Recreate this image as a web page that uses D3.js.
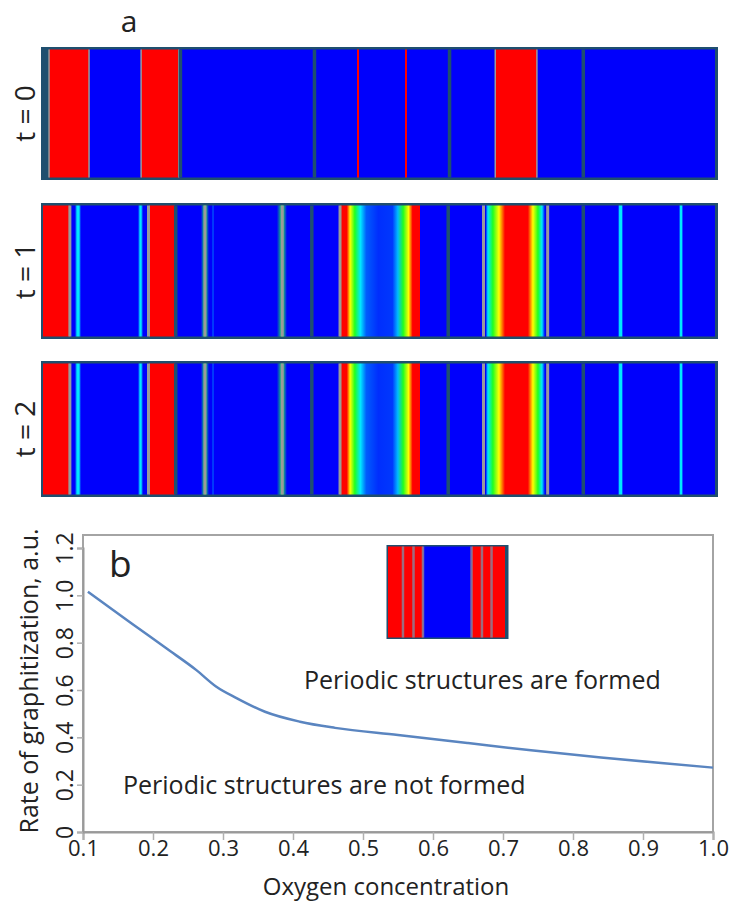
<!DOCTYPE html>
<html>
<head>
<meta charset="utf-8">
<script src="https://cdn.jsdelivr.net/npm/d3@7"></script>
<style>
  body { margin: 0; background: #fff; }
  svg { display: block; font-family: "Open Sans", sans-serif; }
</style>
</head>
<body>
<svg id="mySVG" width="729" height="903"></svg>
<script>
// ---- data ----
const stripLabels = ["t = 0", "t = 1", "t = 2"];

// concentration along the sample: [position %, value 0..1]
const profileT0 = [
    [0.9, 1], [6.85, 1], [6.85, 0], [14.6, 0], [14.6, 1], [20.2, 1], [20.2, 0],
    [46.7, 0], [46.7, 1], [47.0, 1], [47.0, 0],
    [53.9, 0], [53.9, 1], [54.2, 1], [54.2, 0],
    [67.3, 0], [67.3, 1], [73.5, 1], [73.5, 0], [100, 0]
];
const profileT1 = [
    [0, 1], [4.0, 1], [4.0, 0],
    [4.76, 0], [5.06, 0.25], [5.36, 0.25], [5.65, 0],
    [14.14, 0], [14.43, 0.25], [14.6, 0.25], [14.88, 0],
    [15.7, 0], [15.7, 1], [19.7, 1], [19.7, 0],
    [23.5, 0], [24.1, 0.45], [24.7, 0],
    [25.15, 0], [25.3, 0.12], [25.45, 0],
    [34.8, 0], [35.6, 0.45], [36.3, 0],
    [44.2, 0], [44.2, 1], [45.2, 1], [45.7, 0.75], [46.4, 0.5], [47.25, 0.25], [48.1, 0.1],
    [49.9, 0.05], [52.0, 0.06], [52.8, 0.2], [53.6, 0.5], [54.4, 0.75], [55.0, 1], [56.1, 1], [56.1, 0],
    [65.85, 0], [66.2, 0.25], [66.95, 0.5], [67.85, 0.75], [68.75, 1], [72.15, 1], [72.9, 0.75],
    [73.65, 0.5], [74.25, 0.25], [74.7, 0],
    [85.57, 0], [85.8, 0.25], [86.1, 0.25], [86.31, 0],
    [94.64, 0], [94.85, 0.25], [95.05, 0.25], [95.24, 0],
    [100, 0]
];
const profileT2 = profileT1.map(p => p.slice());

const wallsT0 = [20.45, 40.4, 60.5, 80.4];
const wallsT1 = [19.75, 40.0, 60.3, 80.4];
const interfacesT0 = [0.9, 6.85, 14.6, 20.2, 67.3, 73.5];
const interfacesT1 = [4.0, 15.7, 24.1, 35.6, 44.2, 65.55, 75.1];

const insetProfile = [[0, 1], [29.9, 1], [29.9, 0], [71.4, 0], [71.4, 1], [100, 1]];
const insetLines = [12.8, 21.8, 29.9, 71.4, 80.3, 88.5];

const oxygen = [0.107, 0.17, 0.22, 0.262, 0.29, 0.32, 0.36, 0.41, 0.46, 0.55, 0.65, 0.74, 0.84, 0.93, 1.0];
const rate = [1.015, 0.88, 0.774, 0.684, 0.615, 0.565, 0.508, 0.466, 0.44, 0.41, 0.376, 0.345, 0.315, 0.29, 0.272];
const xTicks = [0.1, 0.2, 0.3, 0.4, 0.5, 0.6, 0.7, 0.8, 0.9, 1.0];
const yTicks = [0, 0.2, 0.4, 0.6, 0.8, 1.0, 1.2];

// ---- layout ----
const svg = d3.select('#mySVG');
const frameColor = "#1f4f6f";
const lineGray = "#9a9a9a";
const textColor = "#222";

const jet = d3.scaleLinear()
    .domain([0, 0.25, 0.5, 0.75, 1])
    .range(["#0000fc", "#00e8ff", "#20ff20", "#ffff00", "#ff0000"]);

const defs = svg.append("defs");

function drawStrip(id, profile, walls, lines, opts) {
    const g = svg.append("g");
    const xs = d3.scaleLinear().domain([0, 100]).range([opts.x0, opts.x1]);
    const innerTop = opts.y + opts.pad;
    const innerH = opts.h - 2 * opts.pad;

    const grad = defs.append("linearGradient")
        .attr("id", id)
        .attr("gradientUnits", "userSpaceOnUse")
        .attr("x1", xs(0)).attr("x2", xs(100))
        .attr("y1", 0).attr("y2", 0);
    grad.selectAll("stop")
        .data(profile)
        .enter().append("stop")
        .attr("offset", d => d[0] + "%")
        .attr("stop-color", d => jet(d[1]));

    g.append("rect")
        .attr("x", opts.fx0).attr("y", opts.y)
        .attr("width", opts.fx1 - opts.fx0).attr("height", opts.h)
        .attr("fill", frameColor);

    const first = profile[0][0], last = profile[profile.length - 1][0];
    g.append("rect")
        .attr("x", xs(first)).attr("y", innerTop)
        .attr("width", xs(last) - xs(first)).attr("height", innerH)
        .attr("fill", "url(#" + id + ")");

    g.selectAll("line.iface")
        .data(lines)
        .enter().append("line")
        .attr("class", "iface")
        .attr("x1", d => xs(d)).attr("x2", d => xs(d))
        .attr("y1", innerTop).attr("y2", innerTop + innerH)
        .attr("stroke", opts.lineColor || lineGray)
        .attr("stroke-opacity", opts.lineOpacity || 1)
        .attr("stroke-width", opts.lineWidth);

    g.selectAll("line.wall")
        .data(walls)
        .enter().append("line")
        .attr("class", "wall")
        .attr("x1", d => xs(d)).attr("x2", d => xs(d))
        .attr("y1", innerTop).attr("y2", innerTop + innerH)
        .attr("stroke", frameColor)
        .attr("stroke-width", 3.5);
    return g;
}

const stripTops = [47, 203, 361];
const stripHeights = [133, 136, 136];
const stripSets = [
    [profileT0, wallsT0, interfacesT0, 1.5],
    [profileT1, wallsT1, interfacesT1, 3],
    [profileT2, wallsT1, interfacesT1, 3]
];

stripSets.forEach(function (s, i) {
    drawStrip("strip-" + i, s[0], s[1], s[2], {
        x0: 43, x1: 715, fx0: 41, fx1: 718,
        y: stripTops[i], h: stripHeights[i], pad: 2.5, lineWidth: s[3]
    });
    svg.append("text")
        .attr("transform", "translate(35," + (stripTops[i] + stripHeights[i] / 2) + ") rotate(-90)")
        .attr("text-anchor", "middle")
        .style("font-size", "28px")
        .style("fill", textColor)
        .text(stripLabels[i]);
});

svg.append("text")
    .attr("x", 129).attr("y", 32)
    .attr("text-anchor", "middle")
    .style("font-size", "30px")
    .style("fill", textColor)
    .text("a");

// ---- panel b ----
const plot = { left: 83, right: 713, top: 535, bottom: 832 };
const x = d3.scaleLinear().domain([0.1, 1.0]).range([plot.left, plot.right]);
const y = d3.scaleLinear().domain([0, 1.2]).range([plot.bottom, 548]);

svg.append("rect")
    .attr("x", plot.left).attr("y", plot.top)
    .attr("width", plot.right - plot.left).attr("height", plot.bottom - plot.top)
    .attr("fill", "none")
    .attr("stroke", "#a4a4a4")
    .attr("stroke-width", 2);

const xAxis = svg.append("g")
    .attr("transform", "translate(0," + plot.bottom + ")")
    .call(d3.axisBottom(x).tickValues(xTicks).tickFormat(d3.format(".1f")).tickSize(8).tickPadding(0));
const yAxis = svg.append("g")
    .attr("transform", "translate(" + plot.left + ",0)")
    .call(d3.axisLeft(y).tickValues(yTicks).tickFormat(d => d === 0 ? "0" : d3.format(".1f")(d)).tickSize(6));

[xAxis, yAxis].forEach(function (a) {
    a.select(".domain").attr("stroke", "#999").attr("stroke-width", 2);
    a.selectAll(".tick line").attr("stroke", "#b0b0b0").attr("stroke-width", 1.5);
    a.selectAll("text")
        .style("font-family", "'Open Sans', sans-serif")
        .style("font-size", "23px")
        .style("fill", textColor);
});
xAxis.selectAll("text").style("font-size", "22px");
yAxis.selectAll("text")
    .attr("x", null).attr("dy", null)
    .attr("text-anchor", "middle")
    .attr("transform", "translate(-10,0) rotate(-90)");

svg.append("text")
    .attr("transform", "translate(38," + 681 + ") rotate(-90)")
    .attr("text-anchor", "middle")
    .style("font-size", "25px")
    .style("fill", textColor)
    .text("Rate of graphitization, a.u.");

svg.append("text")
    .attr("x", 386).attr("y", 895)
    .attr("text-anchor", "middle")
    .style("font-size", "24px")
    .style("fill", textColor)
    .text("Oxygen concentration");

svg.append("text")
    .attr("x", 109).attr("y", 577)
    .style("font-size", "37px")
    .style("fill", textColor)
    .text("b");

const line = d3.line()
    .x(d => x(d[0]))
    .y(d => y(d[1]))
    .curve(d3.curveMonotoneX);

svg.append("path")
    .datum(oxygen.map((o, i) => [o, rate[i]]))
    .attr("d", line)
    .attr("fill", "none")
    .attr("stroke", "#5a85c0")
    .attr("stroke-width", 2.5);

svg.append("text")
    .attr("x", 304).attr("y", 689)
    .style("font-size", "25px")
    .style("fill", textColor)
    .text("Periodic structures are formed");

svg.append("text")
    .attr("x", 123).attr("y", 794)
    .style("font-size", "25px")
    .style("fill", textColor)
    .text("Periodic structures are not formed");

// inset
drawStrip("inset", insetProfile, [], insetLines, {
    x0: 388, x1: 505, fx0: 386.5, fx1: 508.5,
    y: 545, h: 94, pad: 1.5, lineWidth: 2.5, lineColor: "#8c7f95", lineOpacity: 0.85
});
</script>
</body>
</html>
